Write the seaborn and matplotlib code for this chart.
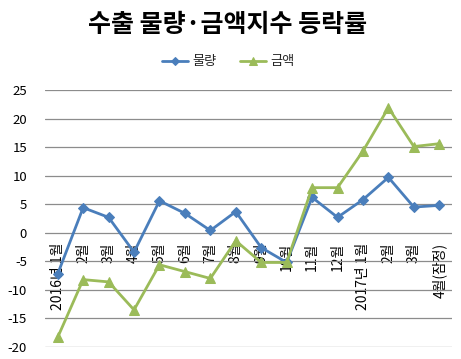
import matplotlib
matplotlib.use("Agg")
import matplotlib.pyplot as plt
import seaborn as sns
import pandas as pd

categories = ["2016년 1월", "2월", "3월", "4월", "5월", "6월", "7월", "8월",
              "9월", "10월", "11월", "12월", "2017년 1월", "2월", "3월", "4월(잠정)"]
volume = [-7.2, 4.4, 2.7, -3.4, 5.6, 3.4, 0.4, 3.7, -2.6, -5.2, 6.2, 2.7, 5.8, 9.7, 4.5, 4.8]
amount = [-18.3, -8.2, -8.6, -13.5, -5.6, -6.8, -8.0, -1.4, -5.2, -5.2, 7.9, 7.9, 14.3, 21.9, 15.1, 15.6]
series_names = ["물량", "금액"]
yticks = [-20, -15, -10, -5, 0, 5, 10, 15, 20, 25]

sns.set_theme(style="white")
plt.rcParams['font.family'] = ['Noto Sans CJK KR', 'DejaVu Sans']

n = len(categories)
df = pd.DataFrame({
    "pos": list(range(n)) * 2,
    "value": volume + amount,
    "series": [series_names[0]] * n + [series_names[1]] * n,
})

fig = plt.figure(figsize=(4.61, 3.59), dpi=100)
ax = fig.add_axes([45/461, 1-347/359, (452-45)/461, (347-90)/359])

palette = {"물량": "#4A7EBB", "금액": "#9BBB59"}
markers = {"물량": "D", "금액": "^"}
sizes = {"물량": 5.5, "금액": 7.5}
for name in series_names:
    sub = df[df["series"] == name]
    sns.lineplot(data=sub, x="pos", y="value", ax=ax, color=palette[name],
                 marker=markers[name], markersize=sizes[name], markeredgecolor=palette[name],
                 linewidth=2.0, label=name, legend=False)

ax.spines['bottom'].set_position(('data', 0))
for s in ax.spines.values():
    s.set_visible(False)
ax.set_xlim(-0.5, n - 0.5)
ax.set_ylim(-20, 25)
ax.set_yticks(yticks)
ax.set_yticklabels([str(v) for v in yticks], fontsize=9.5, color="#000000")
ax.set_xticks(range(n))
ax.set_xticklabels(categories, rotation=90, fontsize=10, va="top", ha="center", color="#000000")
ax.tick_params(axis='x', length=0, pad=7)
ax.tick_params(axis='y', length=0, pad=13)
ax.grid(axis='y', color="#8C8C8C", linewidth=0.9)
ax.set_axisbelow(True)
ax.set_xlabel("")
ax.set_ylabel("")

fig.text(228/461, 1-25/359, "수출 물량·금액지수 등락률", ha="center", va="center",
         fontsize=18, fontweight="bold", color="#000000")

handles, labels = ax.get_legend_handles_labels()
fig.legend(handles, labels, loc="center", bbox_to_anchor=(228/461, 1-62/359), ncol=2,
           frameon=False, fontsize=9.5, handlelength=2.0, columnspacing=1.8,
           handletextpad=0.3, markerscale=0.8)

fig.savefig("out.png", dpi=100, facecolor="white")
